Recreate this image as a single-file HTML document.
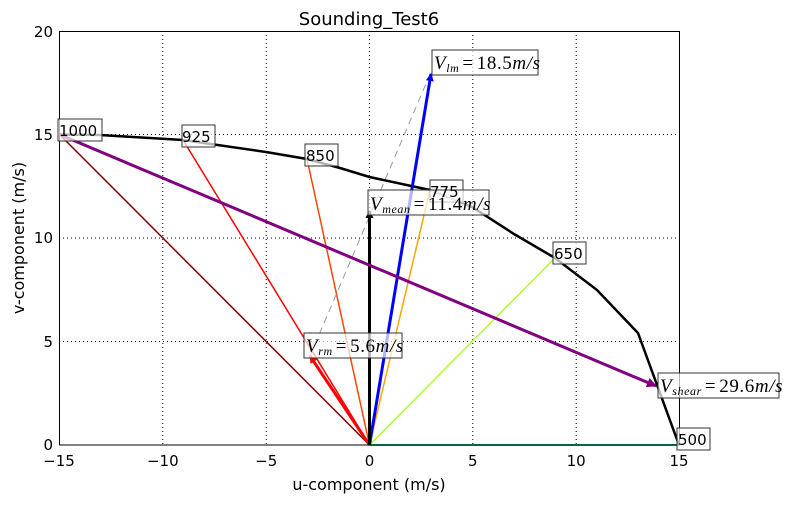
<!DOCTYPE html><html><head><style>body{margin:0;background:#fff}text{font-family:"DejaVu Sans","Liberation Sans",sans-serif}text.m{font-family:"Liberation Serif",serif;font-style:italic;font-size:19px;letter-spacing:0.6px}</style></head><body>
<svg width="786" height="503" xmlns="http://www.w3.org/2000/svg">
<defs>
<marker id="ak" markerWidth="8" markerHeight="8" refX="7" refY="4" orient="auto" markerUnits="userSpaceOnUse"><path d="M0,0 L8,4 L0,8z" fill="#000"/></marker>
<marker id="ab" markerWidth="8" markerHeight="8" refX="7" refY="4" orient="auto" markerUnits="userSpaceOnUse"><path d="M0,0 L8,4 L0,8z" fill="#00f"/></marker>
<marker id="ap" markerWidth="10" markerHeight="10" refX="9" refY="5" orient="auto" markerUnits="userSpaceOnUse"><path d="M0,0 L10,5 L0,10z" fill="purple"/></marker>
<marker id="ar" markerWidth="8" markerHeight="8" refX="7" refY="4" orient="auto" markerUnits="userSpaceOnUse"><path d="M0,0 L8,4 L0,8z" fill="red"/></marker>
</defs>
<text x="369" y="25" font-size="18" text-anchor="middle">Sounding_Test6</text>
<g stroke="#000" stroke-dasharray="1,3" stroke-width="1">
<line x1="162.8" y1="31" x2="162.8" y2="445"/><line x1="266.2" y1="31" x2="266.2" y2="445"/><line x1="369.5" y1="31" x2="369.5" y2="445"/><line x1="472.8" y1="31" x2="472.8" y2="445"/><line x1="576.2" y1="31" x2="576.2" y2="445"/>
<line x1="59" y1="341.5" x2="679" y2="341.5"/><line x1="59" y1="238" x2="679" y2="238"/><line x1="59" y1="134.5" x2="679" y2="134.5"/>
</g>
<g fill="none" stroke-width="1.5">
<line x1="369.5" y1="445" x2="59.5" y2="134.5" stroke="#800000"/>
<line x1="369.5" y1="445" x2="183" y2="140" stroke="red"/>
<line x1="369.5" y1="445" x2="307" y2="159" stroke="#ff4500"/>
<line x1="369.5" y1="445" x2="430" y2="190" stroke="orange"/>
<line x1="369.5" y1="445" x2="555" y2="258" stroke="#adff2f"/>
<line x1="369.5" y1="445" x2="679" y2="445" stroke="#00d080" stroke-width="2"/>
<line x1="310" y1="356" x2="431" y2="72" stroke="#999" stroke-width="1" stroke-dasharray="7,5"/>
<line x1="369.5" y1="445" x2="310" y2="356" stroke="red" stroke-width="3" marker-end="url(#ar)"/>
<polyline stroke="#000" stroke-width="2.5" points="59.5,134.5 100,135 183,140 266,152 307,159 340,168 369.5,177 430,190 472,207 514,234 555,258 597,290 638,333 679,445"/>
<line x1="369.5" y1="445" x2="431" y2="74" stroke="#00f" stroke-width="3" marker-end="url(#ab)"/>
<line x1="369.5" y1="445" x2="369.5" y2="211" stroke="#000" stroke-width="3" marker-end="url(#ak)"/>
<line x1="59.5" y1="134.5" x2="656" y2="386" stroke="purple" stroke-width="3" marker-end="url(#ap)"/>
</g>
<rect x="59.5" y="31.5" width="620" height="413.5" fill="none" stroke="#000" stroke-width="1"/>
<g font-size="15" fill="#000">
<g text-anchor="middle"><text x="59" y="466">−15</text><text x="162.8" y="466">−10</text><text x="266.2" y="466">−5</text><text x="369.5" y="466">0</text><text x="472.8" y="466">5</text><text x="576.2" y="466">10</text><text x="679" y="466">15</text></g>
<g text-anchor="end"><text x="53" y="450">0</text><text x="53" y="347">5</text><text x="53" y="243">10</text><text x="53" y="140">15</text><text x="53" y="37">20</text></g>
<text x="369" y="490" text-anchor="middle" font-size="16">u-component (m/s)</text>
<text transform="translate(24,238) rotate(-90)" text-anchor="middle" font-size="16">v-component (m/s)</text>
</g>
<g font-size="15" stroke-width="1">
<g fill="rgba(255,255,255,0.7)" stroke="#333">
<rect x="58" y="119" width="44" height="22"/><rect x="182" y="125" width="33" height="22"/><rect x="305" y="144" width="33" height="22"/><rect x="430" y="180" width="33" height="22"/><rect x="553" y="242" width="33" height="22"/><rect x="677" y="428" width="33" height="22"/>
<rect x="432" y="50" width="106" height="25"/><rect x="368" y="190" width="121" height="25"/><rect x="304" y="333" width="98" height="25"/><rect x="658" y="373" width="121" height="25"/>
</g>
<text x="59" y="136">1000</text><text x="182" y="142">925</text><text x="306" y="161">850</text><text x="430" y="197">775</text><text x="554" y="259">650</text><text x="678" y="445">500</text>
<text class="m" x="434" y="69">V<tspan font-size="12" dy="3">lm</tspan><tspan dy="-3" dx="3" font-style="normal">=</tspan><tspan dx="3" font-style="normal">18.5</tspan>m/s</text>
<text class="m" x="370" y="210">V<tspan font-size="12" dy="3">mean</tspan><tspan dy="-3" dx="3" font-style="normal">=</tspan><tspan dx="3" font-style="normal">11.4</tspan>m/s</text>
<text class="m" x="306" y="352">V<tspan font-size="12" dy="3">rm</tspan><tspan dy="-3" dx="3" font-style="normal">=</tspan><tspan dx="3" font-style="normal">5.6</tspan>m/s</text>
<text class="m" x="660" y="392">V<tspan font-size="12" dy="3">shear</tspan><tspan dy="-3" dx="3" font-style="normal">=</tspan><tspan dx="3" font-style="normal">29.6</tspan>m/s</text>
</g>
</svg>
</body></html>
